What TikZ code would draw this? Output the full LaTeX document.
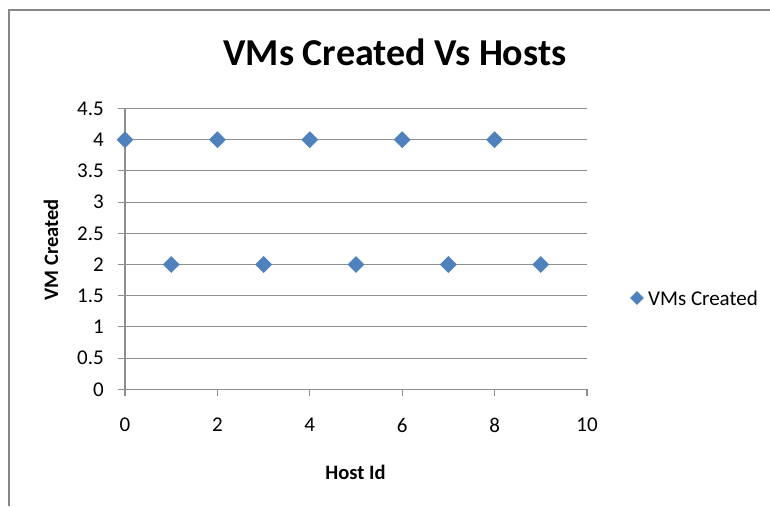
\documentclass[tikz,border=0pt]{standalone}
\usepackage{fontspec}
\setmainfont{Carlito}
\usetikzlibrary{shapes.geometric}
\definecolor{framegray}{HTML}{878787}
\definecolor{gridgray}{HTML}{8E8E8E}
\definecolor{markblue}{HTML}{4F81BD}
\tikzset{
  gridline/.style={draw=gridgray, line width=1.1pt},
  axisline/.style={draw=gridgray, line width=1.2pt},
  ticklabel/.style={font=\fontsize{21}{23}\selectfont, inner sep=0pt},
  axistitle/.style={font=\fontsize{20.5}{23}\selectfont\bfseries, inner sep=0pt},
  datamark/.style={diamond, fill=markblue, minimum width=17pt, minimum height=17pt, inner sep=0pt},
}
\begin{document}
\begin{tikzpicture}[x=1pt, y=-1pt]
\useasboundingbox (0,0) rectangle (770,506);
% outer chart frame
\draw[framegray, line width=2.5pt] (9,506) -- (9,10) -- (770,10);
% plot geometry: x in [0,10], y in [0,4.5]
\def\xo{125}\def\xs{46.2}
\def\yo{389.3}\def\ys{62.4}
% horizontal gridlines and y ticks
\foreach \v/\lab in {0.5/0.5,1/1,1.5/1.5,2/2,2.5/2.5,3/3,3.5/3.5,4/4,4.5/4.5} {
  \draw[gridline] (\xo-7,\yo-\ys*\v) -- (\xo+\xs*10,\yo-\ys*\v);
  \node[ticklabel, anchor=east] (yl\lab) at (104,\yo-\ys*\v) {\lab};
}
\node[ticklabel, anchor=east] (yl0) at (104,\yo) {0};
% axes
\draw[axisline] (\xo-7,\yo) -- (\xo+\xs*10,\yo);
\draw[axisline] (\xo,\yo+7) -- (\xo,\yo-\ys*4.5);
\foreach \v in {0,2,4,6,8,10} {
  \draw[axisline] (\xo+\xs*\v,\yo) -- (\xo+\xs*\v,\yo+7);
  \node[ticklabel] (xl\v) at (\xo+\xs*\v,425) {\v};
}
% data points
\foreach \i/\h in {0/4,1/2,2/4,3/2,4/4,5/2,6/4,7/2,8/4,9/2} {
  \node[datamark] (p\i) at (\xo+\xs*\i,\yo-\ys*\h) {};
}
% titles
\node[font=\fontsize{38}{40}\selectfont\bfseries, inner sep=0pt, anchor=base] (title) at (395,65) {VMs Created Vs Hosts};
\node[axistitle, rotate=90] (ytitle) at (51,250) {VM Created};
\node[axistitle, anchor=base] (xtitle) at (355.5,479) {Host Id};
% legend
\node[datamark, minimum width=14pt, minimum height=14pt] (legmark) at (637,298) {};
\node[ticklabel, anchor=west] (legtext) at (648,298) {VMs Created};
\end{tikzpicture}
\end{document}
